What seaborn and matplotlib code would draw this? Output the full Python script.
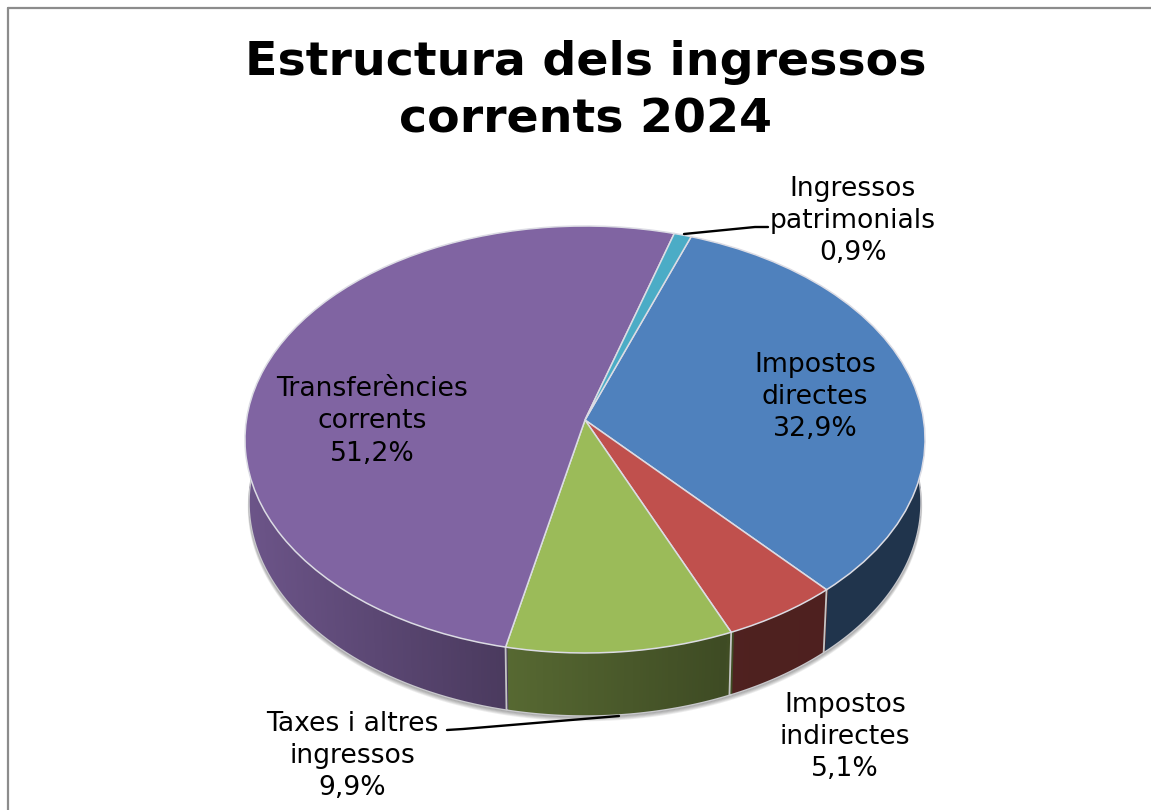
import numpy as np
import matplotlib
matplotlib.use("Agg")
import matplotlib.pyplot as plt
from matplotlib.transforms import Transform
import seaborn as sns

sns.set_theme(style="white")
plt.rcParams["font.family"] = ["DejaVu Sans"]

# -------------------
# Data
# -------------------
categories = ["Impostos directes", "Impostos indirectes", "Taxes i altres ingressos",
              "Transferències corrents", "Ingressos patrimonials"]
valors = [32.9, 5.1, 9.9, 51.2, 0.9]
colors = ["#4f81bd", "#c0504d", "#9bbb59", "#8064a2", "#4bacc6"]
titol = "Estructura dels ingressos\ncorrents 2024"

APEX = (585, 420)
DEPTH = 63


# -------------------
# Tilted disc: unit pie -> pixel coordinates
# -------------------
def project(x, y, depth=0.0, grow=1.0):
    w = 1 + 0.0913 * y
    px = 338.6 * x / w * grow * (1 - 0.012 * depth / DEPTH)
    py = -211.7 * y / w * grow
    return APEX[0] + px, APEX[1] + py + depth


class Tilt(Transform):
    input_dims = 2
    output_dims = 2
    is_separable = False

    def transform_non_affine(self, values):
        values = np.asarray(values)
        px, py = project(values[:, 0], values[:, 1])
        return np.column_stack([px, py])


def wall_shade(px):
    # darker towards the right
    return np.interp(px, [250, 506, 507, 727, 728, 925], [0.84, 0.58, 0.56, 0.40, 0.41, 0.40])


fig = plt.figure(figsize=(11.51, 8.10), dpi=100)
ax = fig.add_axes([0, 0, 1, 1])

wedges, _ = ax.pie(valors, colors=colors, startangle=70.1, counterclock=False,
                   wedgeprops={"edgecolor": "#dcdce4", "linewidth": 1.1, "zorder": 5})
tilt = Tilt()
for w in wedges:
    w.set_transform(tilt + ax.transData)

ax.set_aspect("equal")
ax.set_xlim(0, 1151)
ax.set_ylim(810, 0)

# soft shadow under the disc
circle = np.radians(np.linspace(0, 360, 361))
for i in range(1, 7):
    sx, sy = project(np.cos(circle), np.sin(circle), depth=DEPTH + i * 0.7, grow=1 + i * 0.0008)
    ax.fill(sx, sy, color="black", alpha=0.07, lw=0, zorder=1)

# wall may not stick out of the lower ellipse
ex, ey = project(np.cos(circle), np.sin(circle), depth=DEPTH)
clip_shape = plt.Polygon(np.column_stack([ex, ey]), transform=ax.transData)

# side wall, one thin strip at a time
for w, col in zip(wedges, colors):
    t = np.radians(np.arange(w.theta1, w.theta2 + 0.5, 0.5))
    t = t[np.sin(t) < 0.1]
    if len(t) < 2:
        continue
    base = np.array(matplotlib.colors.to_rgb(col))
    for a, b in zip(t[:-1], t[1:]):
        tx, ty = project(np.cos([a, b]), np.sin([a, b]))
        bx, by = project(np.cos([b, a]), np.sin([b, a]), depth=DEPTH)
        c = base * wall_shade(tx.mean())
        strip = ax.fill(np.r_[tx, bx], np.r_[ty, by], facecolor=c, edgecolor=c, lw=1.0, zorder=2)
        strip[0].set_clip_path(clip_shape)
    # bottom rim
    bx, by = project(np.cos(t), np.sin(t), depth=DEPTH)
    ax.plot(bx, by, color="#c8c8cc", lw=1.0, zorder=3)

# seams between slices on the wall
for w in wedges:
    a = np.radians(w.theta1)
    if np.sin(a) < 0:
        x0, y0 = project(np.cos(a), np.sin(a))
        x1, y1 = project(np.cos(a), np.sin(a), depth=DEPTH)
        ax.plot([x0, x1], [y0, y1], color="#c4c4c4", lw=1.3, zorder=4)

# -------------------
# Texts
# -------------------
ax.text(586, 91.5, titol, ha="center", va="center", fontsize=34.2, fontweight="bold",
        color="black", linespacing=1.36, zorder=6)

label_pos = [(815, 397), (845, 737), (352, 756), (372, 421.5), (853, 221)]
label_txt = ["Impostos\ndirectes\n32,9%", "Impostos\nindirectes\n5,1%", "Taxes i altres\ningressos\n9,9%",
             "Transferències\ncorrents\n51,2%", "Ingressos\npatrimonials\n0,9%"]
for (lx, ly), txt in zip(label_pos, label_txt):
    ax.text(lx, ly, txt, ha="center", va="center", fontsize=19.2, color="black",
            linespacing=1.32, zorder=6)

# leader lines
ax.plot([684, 755, 768], [234, 227, 227], color="black", lw=1.7, zorder=6)
ax.plot([619, 463, 447], [716, 729, 730], color="black", lw=1.7, zorder=6)

# outer frame, only top and left are inside the picture
ax.plot([8.5, 8.5], [810, 7.5], color="#8c8c8c", lw=1.6, zorder=7)
ax.plot([8.5, 1151], [7.5, 7.5], color="#8c8c8c", lw=1.6, zorder=7)

plt.savefig("out.png", dpi=100)
plt.close()
